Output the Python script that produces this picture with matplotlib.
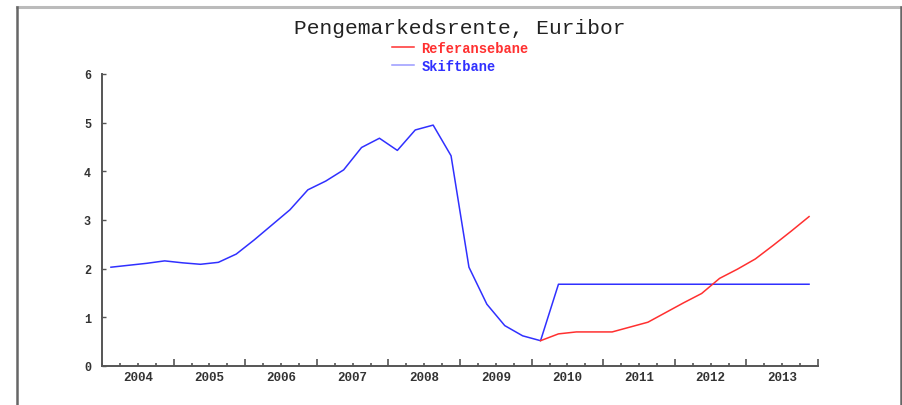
# pengemarked.py
# Pengemarkedsrente, Euribor: referansebane vs skiftbane (kvartalstall)

import matplotlib
matplotlib.use("Agg")
import matplotlib.pyplot as plt
from matplotlib.lines import Line2D
from matplotlib.ticker import MultipleLocator

# ----------------------------
# Data
# ----------------------------
# quarterly points, first quarter 2004 .. fourth quarter 2013
QUARTERS = [2004.125 + 0.25 * k for k in range(40)]

SKIFTBANE = [
    2.03, 2.07, 2.11, 2.16,   # 2004
    2.12, 2.09, 2.13, 2.30,   # 2005
    2.59, 2.90, 3.21, 3.62,   # 2006
    3.80, 4.03, 4.49, 4.68,   # 2007
    4.43, 4.85, 4.95, 4.32,   # 2008
    2.03, 1.27, 0.83, 0.62,   # 2009
    0.52, 1.68, 1.68, 1.68,   # 2010
    1.68, 1.68, 1.68, 1.68,   # 2011
    1.68, 1.68, 1.68, 1.68,   # 2012
    1.68, 1.68, 1.68, 1.68,   # 2013
]

# reference path starts where the shift path leaves the history (Q1 2010)
REF_START = 24
REFERANSEBANE = [
    0.52, 0.66, 0.70, 0.70,   # 2010
    0.70, 0.80, 0.90, 1.10,   # 2011
    1.30, 1.49, 1.80, 1.99,   # 2012
    2.20, 2.48, 2.77, 3.07,   # 2013
]

YEARS = list(range(2004, 2014))
Y_TICKS = [0, 1, 2, 3, 4, 5, 6]

TITLE = "Pengemarkedsrente, Euribor"
LABEL_REF = "Referansebane"
LABEL_SKIFT = "Skiftbane"

RED = "#ff3030"
BLUE = "#3030ff"
AXIS_GREY = "#555555"
MONO = "Liberation Mono"


def main() -> None:
    fig = plt.figure(figsize=(9.03, 4.06), dpi=100)
    fig.patch.set_facecolor("white")

    # outer frame (light grey top, darker sides)
    fig.add_artist(Line2D([17 / 903, 901 / 903], [1 - 8 / 406, 1 - 8 / 406],
                          transform=fig.transFigure, color="#bbbbbb", lw=2.2))
    fig.add_artist(Line2D([17 / 903, 17 / 903], [0, 1 - 8 / 406],
                          transform=fig.transFigure, color="#666666", lw=1.8))
    fig.add_artist(Line2D([901 / 903, 901 / 903], [0, 1 - 8 / 406],
                          transform=fig.transFigure, color="#666666", lw=1.8))

    ax = fig.add_axes([102 / 903, 39 / 406, 716 / 903, 292 / 406])

    ax.plot(QUARTERS, SKIFTBANE, color=BLUE, lw=1.1, label=LABEL_SKIFT, zorder=3)
    ax.plot(QUARTERS[REF_START:], REFERANSEBANE, color=RED, lw=1.1,
            label=LABEL_REF, zorder=3)

    ax.set_xlim(2004.0, 2014.0)
    ax.set_ylim(0, 6)

    # axes styling: only left/bottom, ticks pointing inward
    for side in ("top", "right"):
        ax.spines[side].set_visible(False)
    for side in ("left", "bottom"):
        ax.spines[side].set_color(AXIS_GREY)
        ax.spines[side].set_linewidth(1.4)

    ax.set_xticks([y + 1 for y in YEARS])
    ax.set_xticklabels([])
    ax.xaxis.set_minor_locator(MultipleLocator(0.25))
    ax.tick_params(axis="x", which="major", direction="in", length=5,
                   width=1.2, color=AXIS_GREY)
    ax.tick_params(axis="x", which="minor", direction="in", length=2.5,
                   width=1.2, color=AXIS_GREY)

    ax.set_yticks(Y_TICKS)
    ax.set_yticklabels([str(v) for v in Y_TICKS], fontfamily=MONO,
                       fontweight="bold", fontsize=8.5, color="#333333")
    ax.tick_params(axis="y", direction="in", length=3, width=1.0,
                   color=AXIS_GREY, pad=8)

    # year labels in the middle of each year
    for yr in YEARS:
        ax.text(yr + 0.5, -0.018, str(yr), transform=ax.get_xaxis_transform(),
                ha="center", va="top", fontfamily=MONO, fontweight="bold",
                fontsize=9, color="#333333")

    fig.text(460 / 903, 1 - 28 / 406, TITLE, ha="center", va="center",
             fontfamily=MONO, fontsize=15.3, color="#222222")

    leg = ax.legend(handles=[ax.lines[1], ax.lines[0]],
                    loc="upper left",
                    bbox_to_anchor=(392 / 903, 1 - 42 / 406),
                    bbox_transform=fig.transFigure,
                    frameon=False, borderpad=0, borderaxespad=0,
                    handlelength=1.6, handletextpad=0.55, labelspacing=0.3,
                    prop={"family": MONO, "weight": "bold", "size": 9.9},
                    labelcolor="linecolor")
    leg.legend_handles[1].set_color("#9a9aff")

    fig.savefig("out.png", dpi=100)


if __name__ == "__main__":
    main()
